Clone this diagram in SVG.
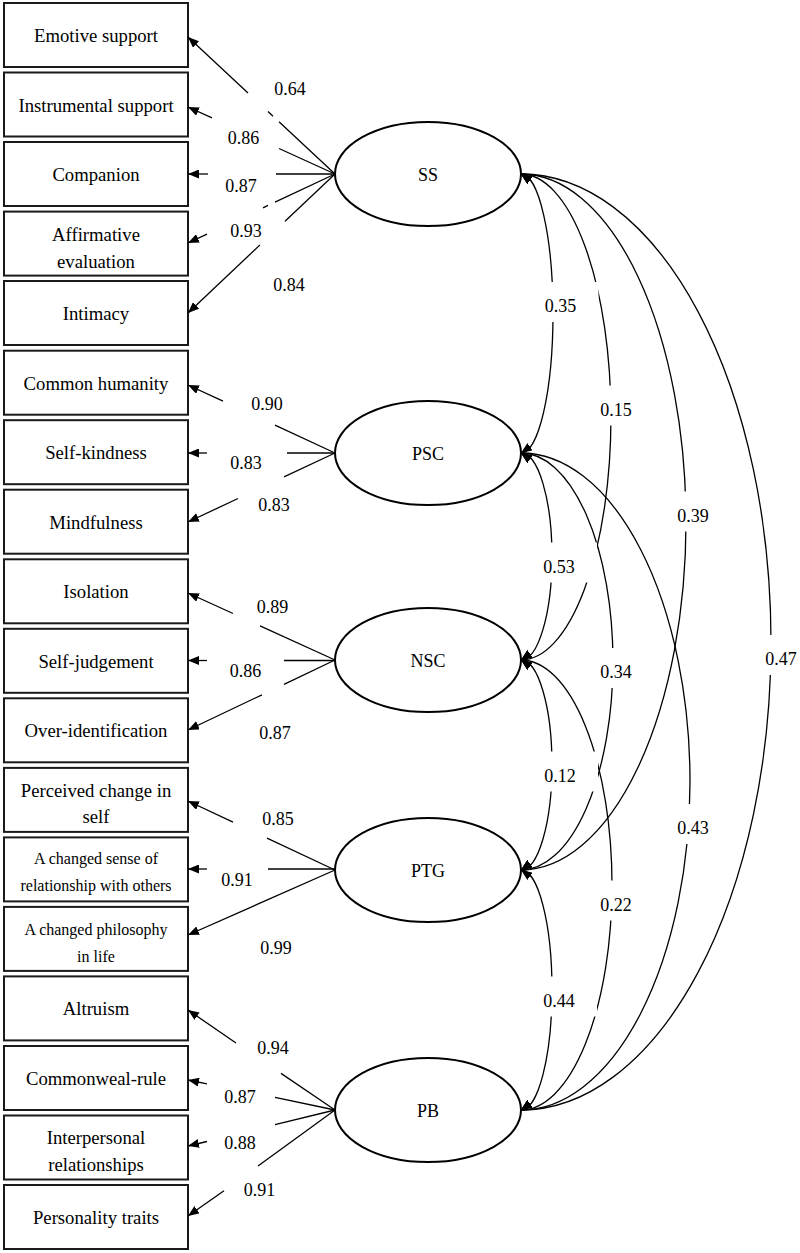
<svg xmlns="http://www.w3.org/2000/svg" width="800" height="1253" viewBox="0 0 800 1253">
<defs>
<style>
.box{fill:#fff;stroke:#1a1a1a;stroke-width:2}
.lat{fill:#fff;stroke:#000;stroke-width:2}
text{font-family:'Liberation Serif','Times New Roman','DejaVu Serif',serif;font-size:18px;fill:#000;text-anchor:middle}
.tb{font-size:18.7px}
.ts{font-size:16px}
.ln{fill:none;stroke:#000;stroke-width:1.3}
.bg{fill:#fff;stroke:none}
</style>
<marker id="arr" viewBox="0 0 11 9" refX="11" refY="4.5" markerWidth="11" markerHeight="9" markerUnits="userSpaceOnUse" orient="auto"><path d="M0,0L11,4.5L0,9z" fill="#000"/></marker>
<marker id="aup" viewBox="0 0 11 9" refX="11" refY="4.5" markerWidth="11" markerHeight="9" markerUnits="userSpaceOnUse" orient="215"><path d="M0,0L11,4.5L0,9z" fill="#000"/></marker>
<marker id="adn" viewBox="0 0 11 9" refX="11" refY="4.5" markerWidth="11" markerHeight="9" markerUnits="userSpaceOnUse" orient="145"><path d="M0,0L11,4.5L0,9z" fill="#000"/></marker>
</defs>
<rect width="800" height="1253" fill="#fff"/>

<g id="indicators">
<g id="n-emotive"><rect class="box" x="4" y="3" width="184" height="64"/><text class="tb" x="96" y="42">Emotive support</text></g>
<g id="n-instrumental"><rect class="box" x="4" y="72.5" width="184" height="64"/><text class="tb" x="96" y="111.5">Instrumental support</text></g>
<g id="n-companion"><rect class="box" x="4" y="142" width="184" height="64"/><text class="tb" x="96" y="181">Companion</text></g>
<g id="n-affirmative"><rect class="box" x="4" y="211.6" width="184" height="64"/><text class="tb" x="96" y="241">Affirmative</text><text class="tb" x="96" y="268">evaluation</text></g>
<g id="n-intimacy"><rect class="box" x="4" y="281" width="184" height="64"/><text class="tb" x="96" y="320">Intimacy</text></g>
<g id="n-common"><rect class="box" x="4" y="350.7" width="184" height="64"/><text class="tb" x="96" y="389.7">Common humanity</text></g>
<g id="n-selfkind"><rect class="box" x="4" y="420.2" width="184" height="64"/><text class="tb" x="96" y="459.2">Self-kindness</text></g>
<g id="n-mindful"><rect class="box" x="4" y="489.7" width="184" height="64"/><text class="tb" x="96" y="528.7">Mindfulness</text></g>
<g id="n-isolation"><rect class="box" x="4" y="559.3" width="184" height="64"/><text class="tb" x="96" y="598.3">Isolation</text></g>
<g id="n-selfjudge"><rect class="box" x="4" y="628.8" width="184" height="64"/><text class="tb" x="96" y="667.8">Self-judgement</text></g>
<g id="n-overid"><rect class="box" x="4" y="698.3" width="184" height="64"/><text class="tb" x="96" y="737.3">Over-identification</text></g>
<g id="n-perceived"><rect class="box" x="4" y="767.9" width="184" height="64"/><text class="tb" x="96" y="797">Perceived change in</text><text class="tb" x="96" y="823">self</text></g>
<g id="n-sense"><rect class="box" x="4" y="837.4" width="184" height="64"/><text class="ts" x="96" y="864">A changed sense of</text><text class="ts" x="96" y="891">relationship with others</text></g>
<g id="n-philosophy"><rect class="box" x="4" y="906.9" width="184" height="64"/><text class="ts" x="96" y="935">A changed philosophy</text><text class="ts" x="96" y="962">in life</text></g>
<g id="n-altruism"><rect class="box" x="4" y="976.4" width="184" height="64"/><text class="tb" x="96" y="1015.4">Altruism</text></g>
<g id="n-commonweal"><rect class="box" x="4" y="1046" width="184" height="64"/><text class="tb" x="96" y="1085">Commonweal-rule</text></g>
<g id="n-interpersonal"><rect class="box" x="4" y="1115.5" width="184" height="64"/><text class="tb" x="96" y="1144">Interpersonal</text><text class="tb" x="96" y="1171">relationships</text></g>
<g id="n-personality"><rect class="box" x="4" y="1185" width="184" height="64"/><text class="tb" x="96" y="1224">Personality traits</text></g>
</g>

<g id="latents">
<g id="n-SS"><ellipse class="lat" cx="428" cy="174" rx="93" ry="52"/><text x="428" y="181">SS</text></g>
<g id="n-PSC"><ellipse class="lat" cx="428" cy="453" rx="93" ry="52"/><text x="428" y="460">PSC</text></g>
<g id="n-NSC"><ellipse class="lat" cx="428" cy="660" rx="93" ry="52"/><text x="428" y="667">NSC</text></g>
<g id="n-PTG"><ellipse class="lat" cx="428" cy="870" rx="93" ry="52"/><text x="428" y="877">PTG</text></g>
<g id="n-PB"><ellipse class="lat" cx="428" cy="1110" rx="93" ry="52"/><text x="428" y="1117">PB</text></g>
</g>

<g id="connectors">
<g id="loadings">
<path class="ln" d="M335,174L279,121.8M273,116.2L268,111.6"/><path class="ln" marker-end="url(#arr)" d="M248,92.9L188,37"/>
<path class="ln" d="M335,174L279,148.5"/><path class="ln" marker-end="url(#arr)" d="M212,117.9L188,107"/>
<path class="ln" d="M335,174L276,174"/><path class="ln" marker-end="url(#arr)" d="M208,174L188,174"/>
<path class="ln" d="M335,174L275,202.1M268,205.4L263,207.8"/><path class="ln" marker-end="url(#arr)" d="M207,234.1L188,243"/>
<path class="ln" d="M335,174L285,221.3"/><path class="ln" marker-end="url(#arr)" d="M260,244.9L188,313"/>
<path class="ln" d="M335,453L275,425.2"/><path class="ln" marker-end="url(#arr)" d="M223,401.2L188,385"/>
<path class="ln" d="M335,453L287,453"/><path class="ln" marker-end="url(#arr)" d="M207,453L188,453"/>
<path class="ln" d="M335,453L284,476.9"/><path class="ln" marker-end="url(#arr)" d="M238,498.5L188,522"/>
<path class="ln" d="M335,660L260,625.8"/><path class="ln" marker-end="url(#arr)" d="M233,613.5L188,593"/>
<path class="ln" d="M335,660.5L284,660.5"/><path class="ln" marker-end="url(#arr)" d="M207,660.5L188,660.5"/>
<path class="ln" d="M335,660L284,684.3"/><path class="ln" marker-end="url(#arr)" d="M262,694.8L188,730"/>
<path class="ln" d="M335,870L267,838.1"/><path class="ln" marker-end="url(#arr)" d="M233,822.1L188,801"/>
<path class="ln" d="M335,869L268,869"/><path class="ln" marker-end="url(#arr)" d="M207,869L188,869"/>
<path class="ln" marker-end="url(#arr)" d="M335,870L188,935"/>
<path class="ln" d="M335,1110L281,1073.4"/><path class="ln" marker-end="url(#arr)" d="M236,1043L188,1010"/>
<path class="ln" d="M335,1110L275,1097.4"/><path class="ln" marker-end="url(#arr)" d="M207,1083.8L188,1080"/>
<path class="ln" d="M335,1110L275,1124.7"/><path class="ln" marker-end="url(#arr)" d="M207,1141.5L188,1146"/>
<path class="ln" d="M335,1110L258,1166"/><path class="ln" marker-end="url(#arr)" d="M224,1190.8L188,1216"/>
</g>
<g id="covariances">
<path class="ln" marker-start="url(#aup)" marker-end="url(#adn)" d="M521,174A32,139.5 0 0 1 521,453"/>
<path class="ln" marker-start="url(#aup)" marker-end="url(#adn)" d="M521,453A31,103.5 0 0 1 521,660"/>
<path class="ln" marker-start="url(#aup)" marker-end="url(#adn)" d="M521,660A31,105 0 0 1 521,870"/>
<path class="ln" marker-start="url(#aup)" marker-end="url(#adn)" d="M521,870A31,120 0 0 1 521,1110"/>
<path class="ln" marker-start="url(#aup)" marker-end="url(#adn)" d="M521,174A90,243 0 0 1 521,660"/>
<path class="ln" marker-start="url(#aup)" marker-end="url(#adn)" d="M521,453A92,208.5 0 0 1 521,870"/>
<path class="ln" marker-start="url(#aup)" marker-end="url(#adn)" d="M521,660A91,225 0 0 1 521,1110"/>
<path class="ln" marker-start="url(#aup)" marker-end="url(#adn)" d="M521,174A165,348 0 0 1 521,870"/>
<path class="ln" marker-start="url(#aup)" marker-end="url(#adn)" d="M521,453A169,328.5 0 0 1 521,1110"/>
<path class="ln" marker-start="url(#aup)" marker-end="url(#adn)" d="M521,174A250,468 0 0 1 521,1110"/>
</g>
</g>

<g id="label-bg">
<rect class="bg" x="522.5" y="282" width="76" height="40"/>
<rect class="bg" x="578" y="385.5" width="76" height="40"/>
<rect class="bg" x="655" y="491.5" width="76" height="40"/>
<rect class="bg" x="521" y="542.5" width="76" height="40"/>
<rect class="bg" x="743" y="635" width="76" height="40"/>
<rect class="bg" x="578" y="648" width="76" height="40"/>
<rect class="bg" x="522" y="751.5" width="76" height="40"/>
<rect class="bg" x="655" y="804" width="76" height="40"/>
<rect class="bg" x="578" y="880.5" width="76" height="40"/>
<rect class="bg" x="521" y="976.5" width="76" height="40"/>
</g>

<g id="labels">
<text x="290" y="95">0.64</text>
<text x="243.5" y="144">0.86</text>
<text x="241" y="191.5">0.87</text>
<text x="246" y="236.5">0.93</text>
<text x="289" y="290.5">0.84</text>
<text x="267" y="410">0.90</text>
<text x="246" y="469">0.83</text>
<text x="274" y="510.5">0.83</text>
<text x="272.5" y="613">0.89</text>
<text x="245.5" y="677">0.86</text>
<text x="275" y="739">0.87</text>
<text x="278" y="825">0.85</text>
<text x="237" y="886">0.91</text>
<text x="276" y="954">0.99</text>
<text x="273" y="1054">0.94</text>
<text x="240" y="1102.5">0.87</text>
<text x="240" y="1149">0.88</text>
<text x="259.5" y="1196">0.91</text>
<text x="560.5" y="312">0.35</text>
<text x="616" y="415.5">0.15</text>
<text x="693" y="521.5">0.39</text>
<text x="559" y="572.5">0.53</text>
<text x="781" y="665">0.47</text>
<text x="616" y="678">0.34</text>
<text x="560" y="781.5">0.12</text>
<text x="693" y="834">0.43</text>
<text x="616" y="910.5">0.22</text>
<text x="559" y="1006.5">0.44</text>
</g>
</svg>
